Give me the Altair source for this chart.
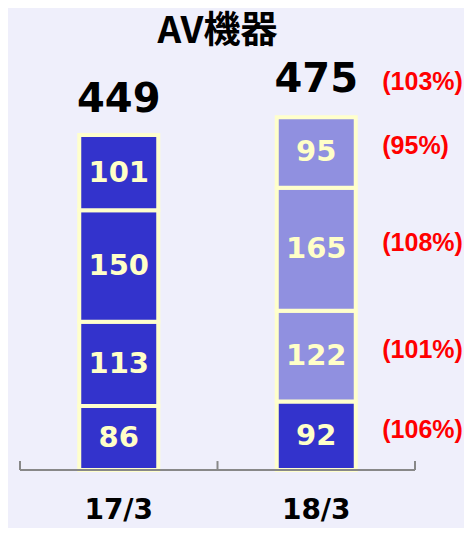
import altair as alt
import pandas as pd

years = ["17/3", "18/3"]
seg_17 = [86, 113, 150, 101]
seg_18 = [92, 122, 165, 95]
kind_17 = ["dark", "dark", "dark", "dark"]
kind_18 = ["dark", "light", "light", "light"]
ratio_18 = ["(106%)", "(101%)", "(108%)", "(95%)"]
totals = [449, 475]
total_ratio = ["", "(103%)"]
tick_pos = [0, 1, 2]

rows = []
for i, (v, k) in enumerate(zip(seg_17, kind_17)):
    rows.append({"year": years[0], "order": i, "value": v, "kind": k, "ratio": ""})
for i, (v, k, r) in enumerate(zip(seg_18, kind_18, ratio_18)):
    rows.append({"year": years[1], "order": i, "value": v, "kind": k, "ratio": r})
seg_df = pd.DataFrame(rows)
tot_df = pd.DataFrame({"year": years, "total": totals, "ratio": total_ratio})
tick_df = pd.DataFrame({"p": tick_pos})
base_df = pd.DataFrame({"start": [tick_pos[0]], "end": [tick_pos[-1]]})

BG = "#EFEFFB"
x_enc = alt.X("year:N", sort=years, scale=alt.Scale(paddingInner=0, paddingOuter=0),
              axis=alt.Axis(title=None, domain=False, ticks=False, labelAngle=0,
                            labelFont="DejaVu Sans", labelFontSize=28, labelFontWeight="bold",
                            labelColor="#000000", labelPadding=26))
y_scale = alt.Scale(domain=[0, 540], nice=False)

stacked = alt.Chart(seg_df).transform_stack(
    stack="value", groupby=["year"], as_=["v0", "v1"], sort=[alt.SortField("order")]
).transform_calculate(mid="(datum.v0 + datum.v1) / 2")

bars = stacked.mark_bar(size=79, stroke="#FFFFCC", strokeWidth=4).encode(
    x=x_enc,
    y=alt.Y("v0:Q", scale=y_scale, axis=None),
    y2="v1:Q",
    color=alt.Color("kind:N", scale=alt.Scale(domain=["dark", "light"], range=["#3333CC", "#9090E0"]), legend=None),
)

seg_text = stacked.mark_text(font="DejaVu Sans", fontSize=29, fontWeight="bold",
                             color="#FFFFC8", baseline="middle").encode(
    x=alt.X("year:N", sort=years), y=alt.Y("mid:Q"), text="value:Q")

ratio_text = stacked.mark_text(font="Liberation Sans", fontSize=25, fontWeight="bold",
                               color="#FF0000", baseline="middle", align="left", dx=66, dy=-6).encode(
    x=alt.X("year:N", sort=years), y=alt.Y("mid:Q"), text="ratio:N")

tot_text = alt.Chart(tot_df).mark_text(font="DejaVu Sans", fontSize=40, fontWeight="bold",
                                       color="#000000", baseline="bottom", dy=-16).encode(
    x=alt.X("year:N", sort=years), y=alt.Y("total:Q"), text="total:Q")

tot_ratio = alt.Chart(tot_df).mark_text(font="Liberation Sans", fontSize=25, fontWeight="bold",
                                        color="#FF0000", baseline="middle", align="left", dx=66, dy=-34).encode(
    x=alt.X("year:N", sort=years), y=alt.Y("total:Q"), text="ratio:N")

xq = alt.Scale(domain=[tick_pos[0], tick_pos[-1]], nice=False)
ticks = alt.Chart(tick_df).mark_rule(color="#888888", strokeWidth=2).encode(
    x=alt.X("p:Q", scale=xq, axis=None), y=alt.datum(0), y2=alt.datum(12))
base = alt.Chart(base_df).mark_rule(color="#888888", strokeWidth=2).encode(
    x=alt.X("start:Q", scale=xq, axis=None), x2="end:Q", y=alt.datum(0))

main = alt.layer(bars, seg_text, ratio_text, tot_text, tot_ratio)
chart = alt.layer(main, ticks, base).resolve_scale(x="independent").properties(
    width=395, height=402,
    padding={"left": 12, "right": 49, "top": 60, "bottom": 58},
    autosize=alt.AutoSizeParams(type="none"),
    background=BG,
    title=alt.TitleParams("AV機器", font="Noto Sans CJK JP", fontSize=37, fontWeight="bold",
                          color="#000000", anchor="middle", offset=9),
).configure_view(stroke=None)

chart.save("out.html", embed_options={"renderer": "svg", "actions": False})
